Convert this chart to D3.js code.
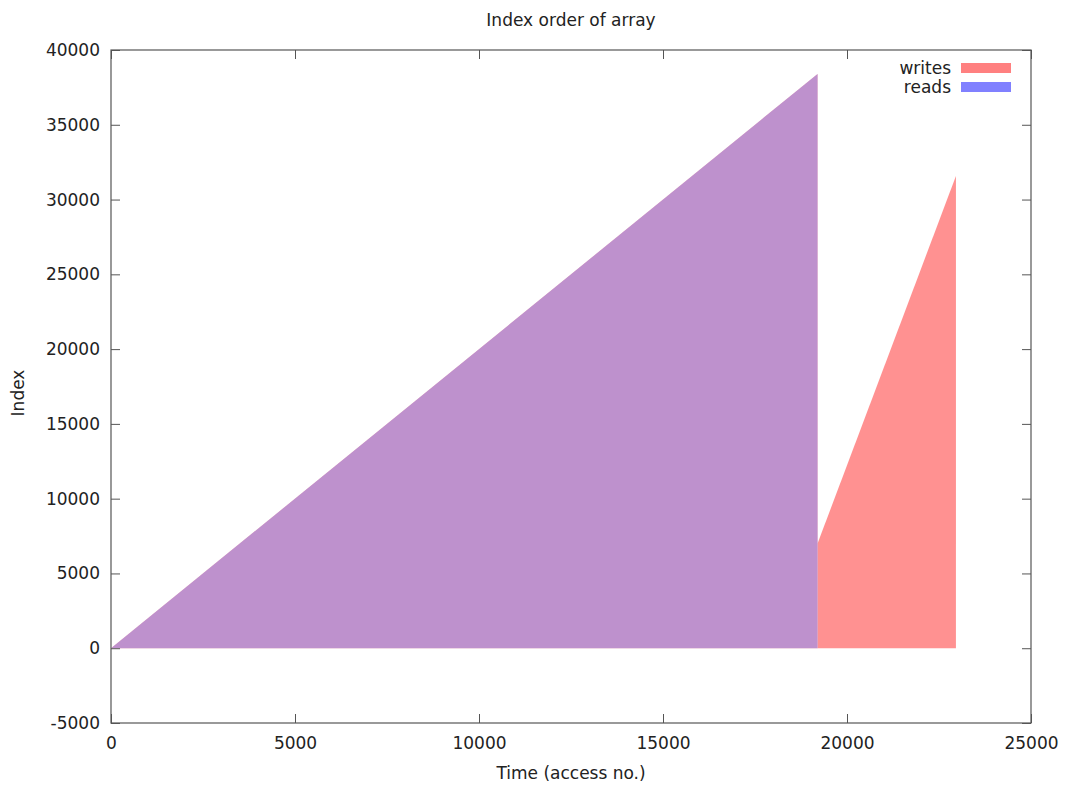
<!DOCTYPE html>
<html>
<head>
<meta charset="utf-8">
<script src="https://cdn.jsdelivr.net/npm/d3@7"></script>
<style>
  html, body { margin: 0; padding: 0; background: #fff; }
  svg text { font-family: "DejaVu Sans", sans-serif; fill: #222; }
</style>
</head>
<body>
<svg id="chart" width="1068" height="787"></svg>
<script>
// Access traces: time (access number) vs. array index touched
const readsTime   = [0, 19200];
const readsIndex  = [0, 38400];
const writesSegments = [
  { time: [0, 19200],     index: [0, 38400] },
  { time: [19200, 22960], index: [7000, 31570] }
];

const xTicks = [0, 5000, 10000, 15000, 20000, 25000];
const yTicks = [-5000, 0, 5000, 10000, 15000, 20000, 25000, 30000, 35000, 40000];

const seriesNames  = ["writes", "reads"];
const legendColors = ["#ff8080", "#8080ff"];

const svg = d3.select("#chart");
const margin = { left: 111, right: 1068 - 1031, top: 50, bottom: 787 - 723 };
const W = 1068, H = 787;

const x = d3.scaleLinear().domain([0, 25000]).range([margin.left, W - margin.right]);
const y = d3.scaleLinear().domain([-5000, 40000]).range([H - margin.bottom, margin.top]);

const toPoints = (ts, vs) => ts.map((t, i) => [t, vs[i]]);
const area = d3.area()
  .x(d => x(d[0]))
  .y0(y(0))
  .y1(d => y(d[1]));

// writes drawn first, reads blended on top of them
const g = svg.append("g");
writesSegments.forEach(s => {
  g.append("path")
    .datum(toPoints(s.time, s.index))
    .attr("d", area)
    .attr("fill", "#ff9191");
});
g.append("path")
  .datum(toPoints(readsTime, readsIndex))
  .attr("d", area)
  .attr("fill", "rgb(136,145,255)")
  .attr("fill-opacity", 0.55);

// axes with inward, mirrored ticks
const tickLen = 9;
const axisColor = "#555";
const fs = 17;
const plain = d => String(d);

const axB = svg.append("g").attr("transform", `translate(0,${y(-5000)})`)
  .call(d3.axisBottom(x).tickValues(xTicks).tickFormat(plain).tickSizeInner(-tickLen).tickSizeOuter(0).tickPadding(14));
const axT = svg.append("g").attr("transform", `translate(0,${y(40000)})`)
  .call(d3.axisTop(x).tickValues(xTicks).tickSizeInner(-tickLen).tickSizeOuter(0).tickFormat(""));
const axL = svg.append("g").attr("transform", `translate(${x(0)},0)`)
  .call(d3.axisLeft(y).tickValues(yTicks).tickFormat(plain).tickSizeInner(-tickLen).tickSizeOuter(0).tickPadding(11));
const axR = svg.append("g").attr("transform", `translate(${x(25000)},0)`)
  .call(d3.axisRight(y).tickValues(yTicks).tickSizeInner(-tickLen).tickSizeOuter(0).tickFormat(""));

[axB, axT, axL, axR].forEach(a => {
  a.select(".domain").remove();
  a.selectAll(".tick line").attr("stroke", axisColor).attr("stroke-width", 1);
  a.selectAll(".tick text").attr("font-size", fs).attr("font-family", "DejaVu Sans").attr("fill", "#222");
});

// plot border
svg.append("rect")
  .attr("x", x(0)).attr("y", y(40000))
  .attr("width", x(25000) - x(0)).attr("height", y(-5000) - y(40000))
  .attr("fill", "none").attr("stroke", axisColor).attr("stroke-width", 1.2);

// titles
svg.append("text").attr("x", 571).attr("y", 26).attr("text-anchor", "middle")
  .attr("font-size", fs).text("Index order of array");
svg.append("text").attr("x", 571).attr("y", 779).attr("text-anchor", "middle")
  .attr("font-size", fs).text("Time (access no.)");
svg.append("text").attr("transform", "translate(24,393) rotate(-90)").attr("text-anchor", "middle")
  .attr("font-size", fs).text("Index");

// legend
const leg = svg.append("g");
seriesNames.forEach((name, i) => {
  const cy = 68 + i * 19;
  leg.append("text").attr("x", 951).attr("y", cy + 6).attr("text-anchor", "end")
    .attr("font-size", fs).text(name);
  leg.append("rect").attr("x", 961).attr("y", cy - 5).attr("width", 50).attr("height", 10)
    .attr("fill", legendColors[i]);
});
</script>
</body>
</html>
